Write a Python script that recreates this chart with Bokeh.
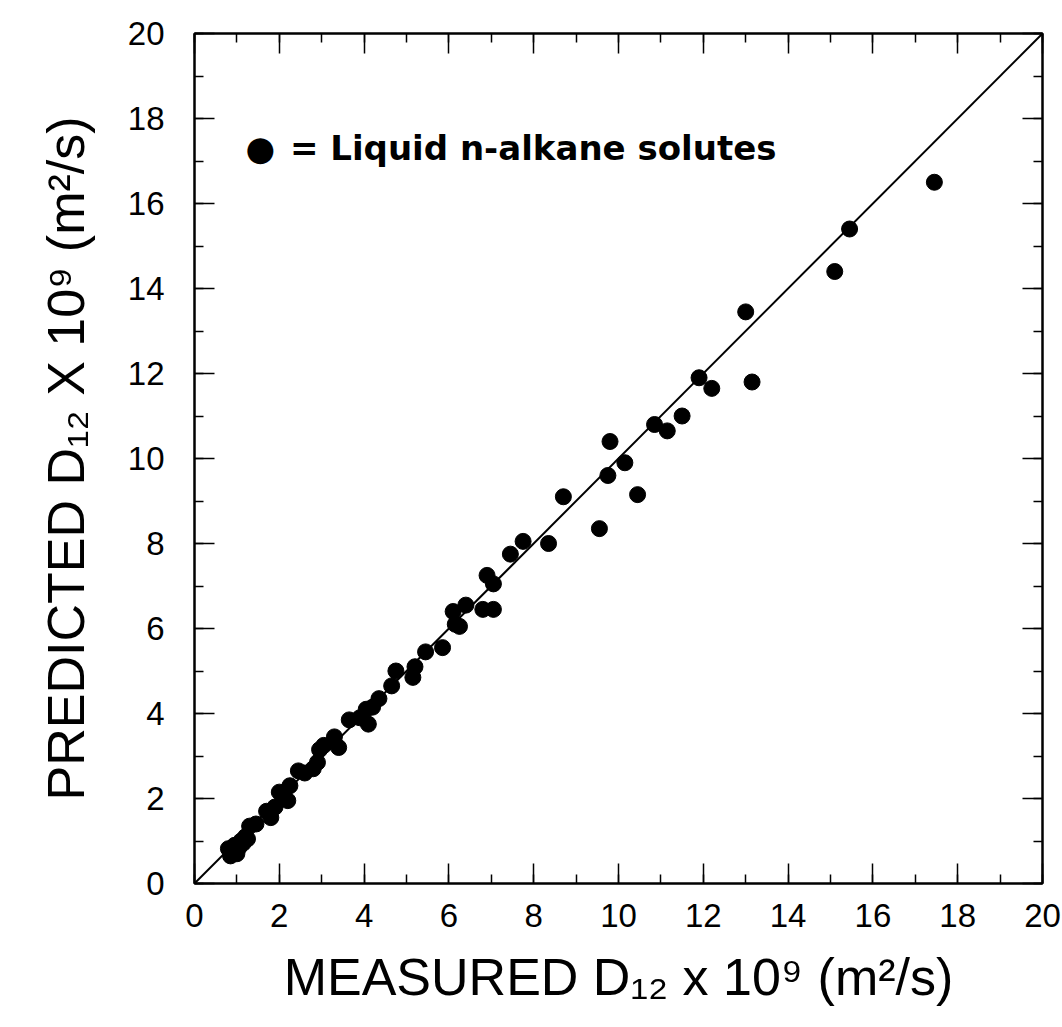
from bokeh.plotting import figure
from bokeh.models import Range1d, LinearAxis, Label, SingleIntervalTicker, CustomLabelingPolicy
from bokeh.embed import file_html
from bokeh.resources import INLINE

# Measured vs predicted diffusion coefficients (x 10^9 m^2/s)
measured = [0.80, 0.85, 0.90, 0.95, 1.00, 1.05, 1.10, 1.15, 1.20, 1.25,
            1.30, 1.45, 1.70, 1.80, 1.90, 2.00, 2.10, 2.20, 2.25, 2.45,
            2.60, 2.80, 2.90, 2.95, 3.05, 3.30, 3.40, 3.65, 3.90, 4.05,
            4.10, 4.20, 4.35, 4.65, 4.75, 5.15, 5.20, 5.45, 5.85, 6.10,
            6.15, 6.25, 6.40, 6.80, 6.90, 7.05, 7.05, 7.45, 7.75, 8.35,
            8.70, 9.55, 9.75, 9.80, 10.15, 10.45, 10.85, 11.15, 11.50, 11.90,
            12.20, 13.00, 13.15, 15.10, 15.45, 17.45]
predicted = [0.82, 0.65, 0.75, 0.90, 0.70, 0.85, 1.00, 0.95, 1.10, 1.05,
             1.35, 1.40, 1.70, 1.55, 1.80, 2.15, 2.05, 1.95, 2.30, 2.65,
             2.60, 2.70, 2.85, 3.15, 3.25, 3.45, 3.20, 3.85, 3.90, 4.10,
             3.75, 4.15, 4.35, 4.65, 5.00, 4.85, 5.10, 5.45, 5.55, 6.40,
             6.10, 6.05, 6.55, 6.45, 7.25, 7.05, 6.45, 7.75, 8.05, 8.00,
             9.10, 8.35, 9.60, 10.40, 9.90, 9.15, 10.80, 10.65, 11.00, 11.90,
             11.65, 13.45, 11.80, 14.40, 15.40, 16.50]
parity_line = [0, 20]

FONT = "Liberation Sans"

p = figure(width=1062, height=1027,
           x_range=Range1d(0, 20), y_range=Range1d(0, 20),
           output_backend="svg", toolbar_location=None,
           min_border_left=194, min_border_right=20,
           min_border_top=33, min_border_bottom=144,
           background_fill_color="white", border_fill_color="white")

p.xgrid.visible = False
p.ygrid.visible = False
p.outline_line_color = "black"
p.outline_line_width = 2

no_labels = CustomLabelingPolicy(code="""
    try {
        const out = new indices.constructor(indices.size, 0)
        if (typeof out.unset === "function") { return out }
    } catch (e) {}
    return indices
""")

def style_axis(ax, show_labels):
    ax.ticker = SingleIntervalTicker(interval=2, num_minor_ticks=2)
    ax.major_tick_in = 20
    ax.major_tick_out = 0
    ax.minor_tick_in = 9
    ax.minor_tick_out = 0
    ax.major_tick_line_color = "black"
    ax.minor_tick_line_color = "black"
    ax.major_tick_line_width = 1.5
    ax.minor_tick_line_width = 1.5
    ax.axis_line_color = "black"
    ax.axis_line_width = 2
    if show_labels:
        ax.major_label_text_font = FONT
        ax.major_label_text_font_size = "33px"
        ax.major_label_text_color = "black"
    else:
        ax.major_label_policy = no_labels
        ax.major_label_text_font_size = "10px"
        ax.major_label_text_color = "white"
        ax.major_label_standoff = 0

style_axis(p.xaxis[0], True)
style_axis(p.yaxis[0], True)
p.xaxis[0].major_label_standoff = 20
p.yaxis[0].major_label_standoff = 30

p.xaxis[0].axis_label = "MEASURED D\u2081\u2082 x 10\u2079 (m\u00b2/s)"
p.xaxis[0].axis_label_text_font = FONT
p.xaxis[0].axis_label_text_font_size = "52px"
p.xaxis[0].axis_label_text_font_style = "normal"
p.xaxis[0].axis_label_text_color = "black"
p.xaxis[0].axis_label_standoff = 18

p.yaxis[0].axis_label = "PREDICTED D\u2081\u2082 X 10\u2079 (m\u00b2/s)"
p.yaxis[0].axis_label_text_font = FONT
p.yaxis[0].axis_label_text_font_size = "52px"
p.yaxis[0].axis_label_text_font_style = "normal"
p.yaxis[0].axis_label_text_color = "black"
p.yaxis[0].axis_label_standoff = 30

top = LinearAxis()
style_axis(top, False)
p.add_layout(top, "above")
right = LinearAxis()
style_axis(right, False)
p.add_layout(right, "right")

p.line(parity_line, parity_line, line_color="black", line_width=2)
p.scatter(measured, predicted, size=16, fill_color="black", line_color="black")

p.add_layout(Label(x=1.2, y=17.3, text="\u25cf", text_font="DejaVu Sans",
                   text_font_size="34px", text_baseline="middle", text_align="left",
                   text_color="black"))
p.add_layout(Label(x=2.25, y=17.3, text="= Liquid n-alkane solutes", text_font="DejaVu Sans",
                   text_font_size="34px", text_font_style="bold",
                   text_baseline="middle", text_align="left", text_color="black"))

open("out.html", "w").write(file_html(p, INLINE))
